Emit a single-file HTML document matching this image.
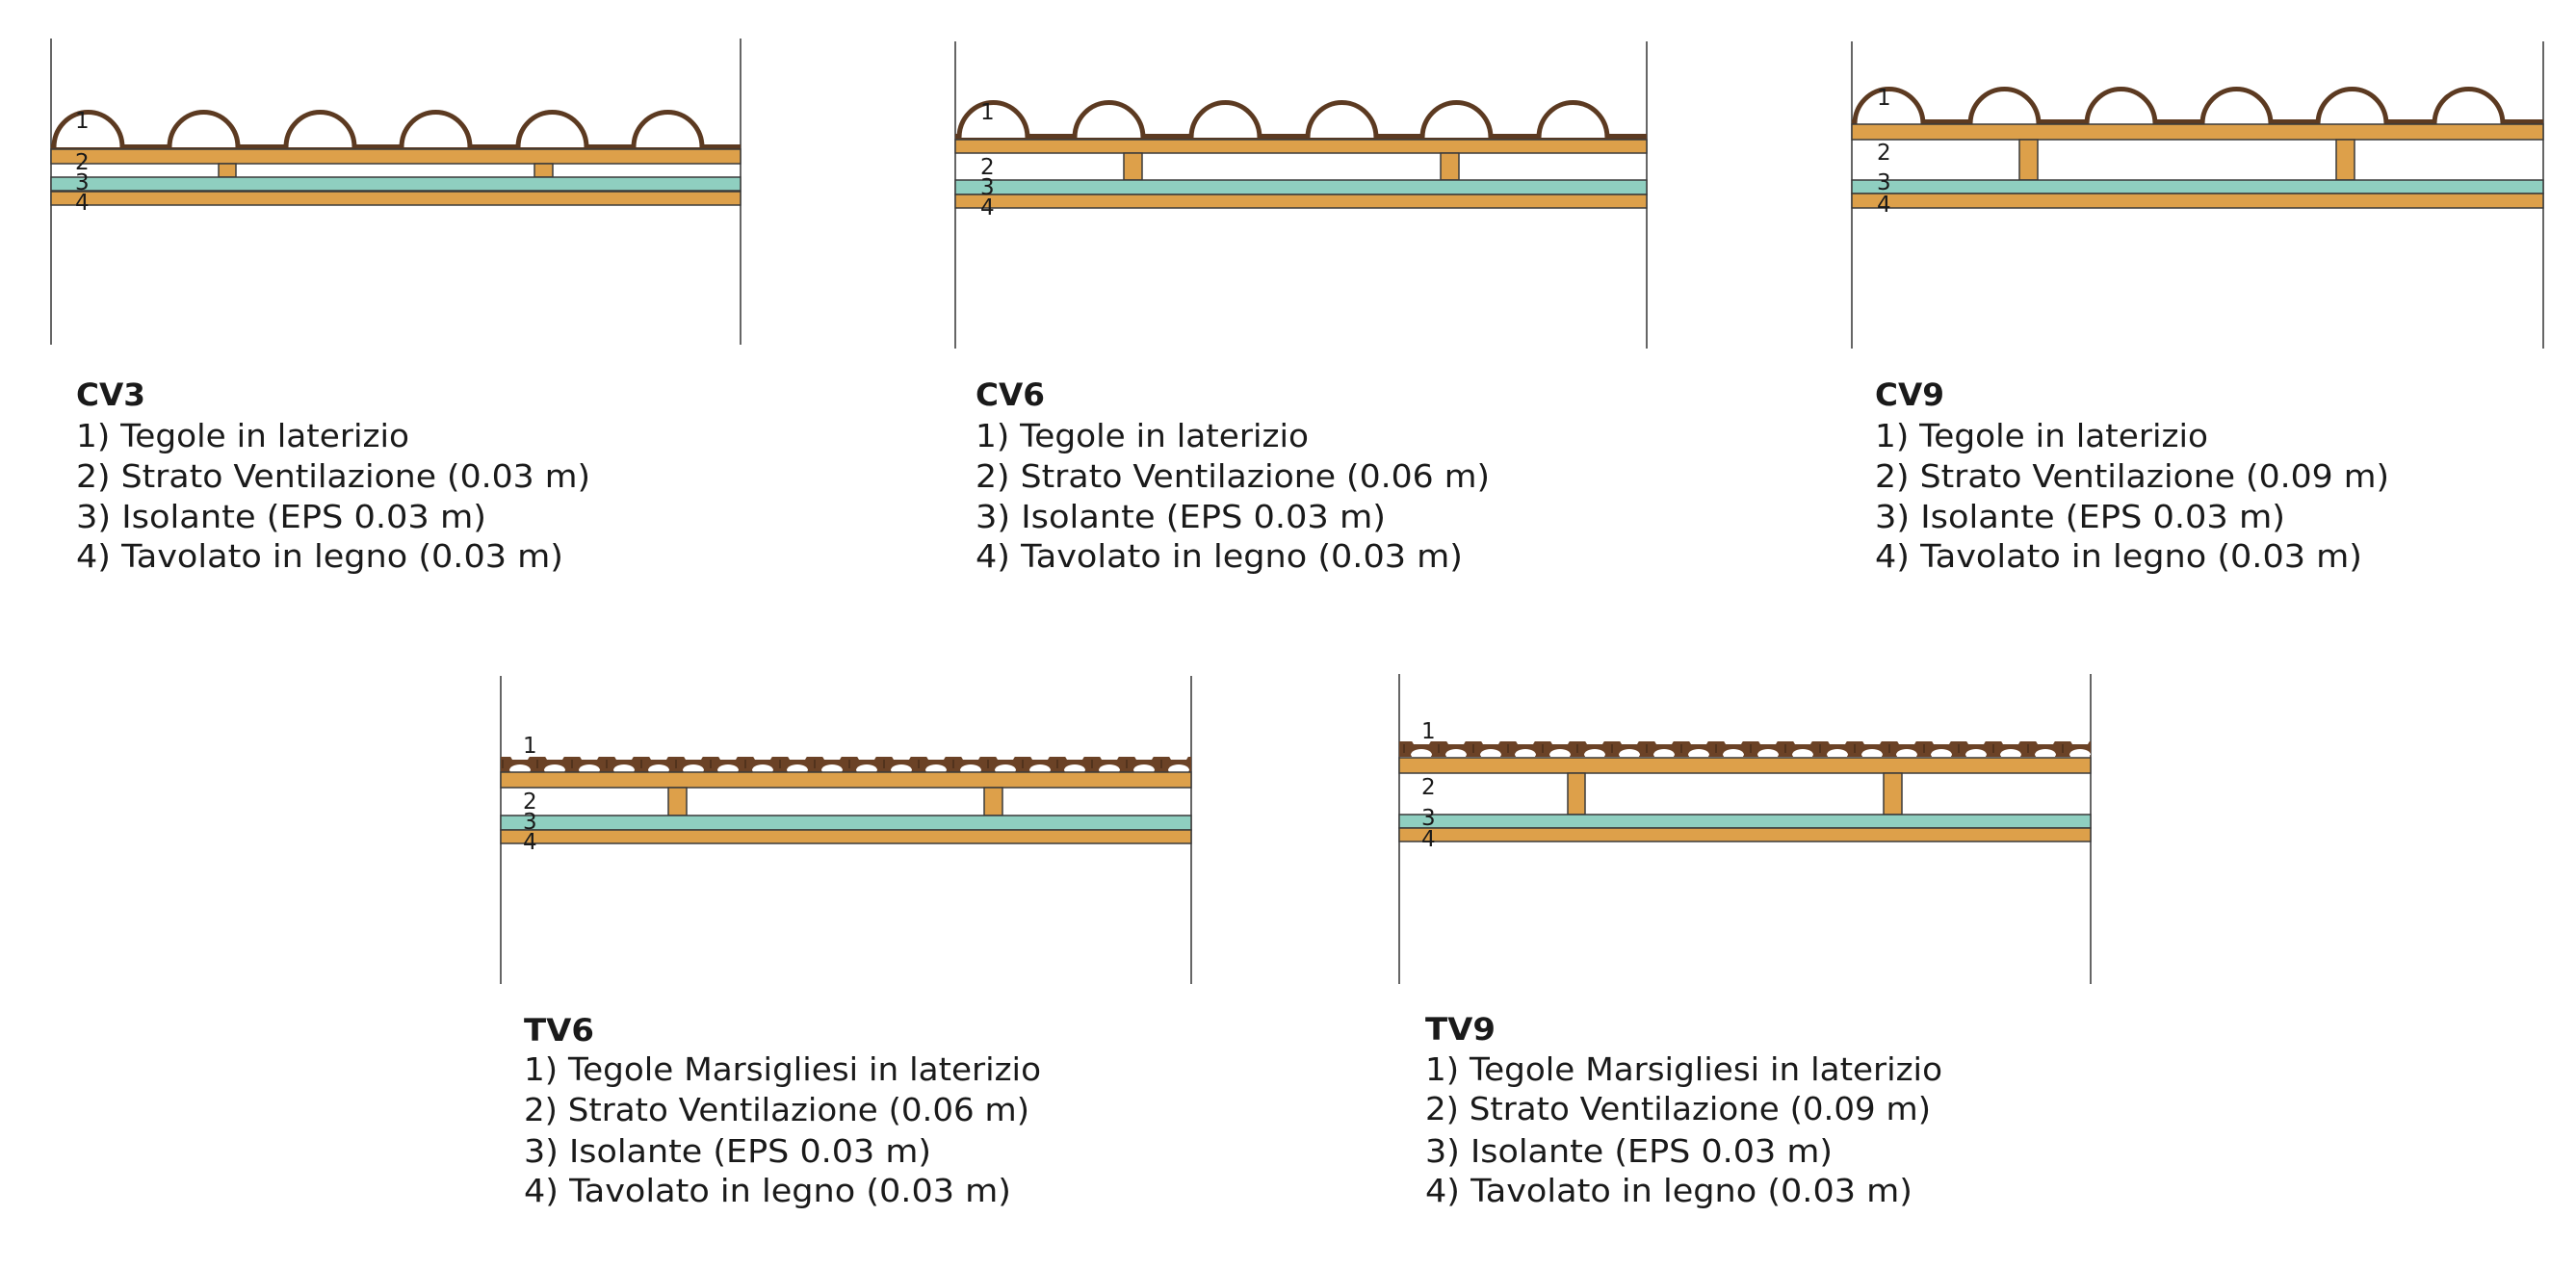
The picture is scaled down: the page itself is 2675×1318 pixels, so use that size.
<!DOCTYPE html>
<html><head><meta charset="utf-8"><style>
html,body{margin:0;padding:0;background:#fff;}
svg{display:block;}
.t{font-family:"DejaVu Sans","Liberation Sans",sans-serif;font-size:33px;fill:#1a1a1a;}
.h{font-family:"DejaVu Sans","Liberation Sans",sans-serif;font-size:32px;font-weight:bold;fill:#1a1a1a;}
.n{font-family:"DejaVu Sans","Liberation Sans",sans-serif;font-size:23px;fill:#1a1a1a;}
.o{fill:#DDA04A;stroke:#3a3a3a;stroke-width:1.5;}
.g{fill:#8FCFC0;stroke:#3a3a3a;stroke-width:1.5;}
.v{stroke:#333;stroke-width:1.5;}
.a{fill:#fff;stroke:#5C3A21;stroke-width:5;}
.b{fill:#5C3A21;}
</style></head><body>
<svg width="2675" height="1318" viewBox="0 0 2675 1318" xmlns="http://www.w3.org/2000/svg">
<defs>
<pattern id="mt" x="0" y="0" width="36" height="16" patternUnits="userSpaceOnUse">
<path d="M0,5 L8,5 L11,0 L25,0 L28,5 L36,5 L36,16 L0,16 Z" fill="#6B4226"/>
<ellipse cx="0" cy="16" rx="11" ry="6" fill="#fff"/>
<ellipse cx="36" cy="16" rx="11" ry="6" fill="#fff"/>
<line x1="18" y1="5" x2="18" y2="14" stroke="#3a2414" stroke-width="1"/>
</pattern>
</defs>

<!-- CV3 -->
<line class="v" x1="53" y1="40" x2="53" y2="358"/>
<line class="v" x1="769" y1="40" x2="769" y2="358"/>
<rect class="b" x="53" y="150" width="716" height="6"/>
<path class="a" d="M56,153 A35 36 0 0 1 127,153"/>
<path class="a" d="M176,153 A35 36 0 0 1 247,153"/>
<path class="a" d="M297,153 A35 36 0 0 1 368,153"/>
<path class="a" d="M417,153 A35 36 0 0 1 488,153"/>
<path class="a" d="M538,153 A35 36 0 0 1 609,153"/>
<path class="a" d="M658,153 A35 36 0 0 1 729,153"/>
<rect class="o" x="53" y="155" width="716" height="15"/>
<rect class="o" x="227" y="170" width="18" height="14"/>
<rect class="o" x="555" y="170" width="19" height="14"/>
<rect class="g" x="53" y="184" width="716" height="14"/>
<rect class="o" x="53" y="199" width="716" height="14"/>
<text class="n" x="78" y="133">1</text>
<text class="n" x="78" y="176">2</text>
<text class="n" x="78" y="197">3</text>
<text class="n" x="78" y="218">4</text>
<text class="h" x="79" y="421" textLength="72" lengthAdjust="spacingAndGlyphs">CV3</text>
<text class="t" x="79" y="464" textLength="346" lengthAdjust="spacingAndGlyphs">1) Tegole in laterizio</text>
<text class="t" x="79" y="506" textLength="534" lengthAdjust="spacingAndGlyphs">2) Strato Ventilazione (0.03 m)</text>
<text class="t" x="79" y="548" textLength="426" lengthAdjust="spacingAndGlyphs">3) Isolante (EPS 0.03 m)</text>
<text class="t" x="79" y="589" textLength="506" lengthAdjust="spacingAndGlyphs">4) Tavolato in legno (0.03 m)</text>

<!-- CV6 -->
<line class="v" x1="992" y1="43" x2="992" y2="362"/>
<line class="v" x1="1710" y1="43" x2="1710" y2="362"/>
<rect class="b" x="992" y="139" width="718" height="7"/>
<path class="a" d="M996,143 A35 36 0 0 1 1067,143"/>
<path class="a" d="M1116,143 A35 36 0 0 1 1187,143"/>
<path class="a" d="M1237,143 A35 36 0 0 1 1308,143"/>
<path class="a" d="M1358,143 A35 36 0 0 1 1429,143"/>
<path class="a" d="M1477,143 A35 36 0 0 1 1548,143"/>
<path class="a" d="M1598,143 A35 36 0 0 1 1669,143"/>
<rect class="o" x="992" y="145" width="718" height="14"/>
<rect class="o" x="1167" y="159" width="19" height="28"/>
<rect class="o" x="1496" y="159" width="19" height="28"/>
<rect class="g" x="992" y="187" width="718" height="15"/>
<rect class="o" x="992" y="202" width="718" height="14"/>
<text class="n" x="1018" y="124">1</text>
<text class="n" x="1018" y="181">2</text>
<text class="n" x="1018" y="202">3</text>
<text class="n" x="1018" y="223">4</text>
<text class="h" x="1013" y="421" textLength="72" lengthAdjust="spacingAndGlyphs">CV6</text>
<text class="t" x="1013" y="464" textLength="346" lengthAdjust="spacingAndGlyphs">1) Tegole in laterizio</text>
<text class="t" x="1013" y="506" textLength="534" lengthAdjust="spacingAndGlyphs">2) Strato Ventilazione (0.06 m)</text>
<text class="t" x="1013" y="548" textLength="426" lengthAdjust="spacingAndGlyphs">3) Isolante (EPS 0.03 m)</text>
<text class="t" x="1013" y="589" textLength="506" lengthAdjust="spacingAndGlyphs">4) Tavolato in legno (0.03 m)</text>

<!-- CV9 -->
<line class="v" x1="1923" y1="43" x2="1923" y2="362"/>
<line class="v" x1="2641" y1="43" x2="2641" y2="362"/>
<rect class="b" x="1923" y="124" width="718" height="6"/>
<path class="a" d="M1926,129 A35 36 0 0 1 1997,129"/>
<path class="a" d="M2046,129 A35 36 0 0 1 2117,129"/>
<path class="a" d="M2167,129 A35 36 0 0 1 2238,129"/>
<path class="a" d="M2287,129 A35 36 0 0 1 2358,129"/>
<path class="a" d="M2407,129 A35 36 0 0 1 2478,129"/>
<path class="a" d="M2528,129 A35 36 0 0 1 2599,129"/>
<rect class="o" x="1923" y="129" width="718" height="16"/>
<rect class="o" x="2097" y="145" width="19" height="42"/>
<rect class="o" x="2426" y="145" width="19" height="42"/>
<rect class="g" x="1923" y="187" width="718" height="14"/>
<rect class="o" x="1923" y="201" width="718" height="15"/>
<text class="n" x="1949" y="109">1</text>
<text class="n" x="1949" y="166">2</text>
<text class="n" x="1949" y="197">3</text>
<text class="n" x="1949" y="220">4</text>
<text class="h" x="1947" y="421" textLength="72" lengthAdjust="spacingAndGlyphs">CV9</text>
<text class="t" x="1947" y="464" textLength="346" lengthAdjust="spacingAndGlyphs">1) Tegole in laterizio</text>
<text class="t" x="1947" y="506" textLength="534" lengthAdjust="spacingAndGlyphs">2) Strato Ventilazione (0.09 m)</text>
<text class="t" x="1947" y="548" textLength="426" lengthAdjust="spacingAndGlyphs">3) Isolante (EPS 0.03 m)</text>
<text class="t" x="1947" y="589" textLength="506" lengthAdjust="spacingAndGlyphs">4) Tavolato in legno (0.03 m)</text>

<!-- TV6 -->
<line class="v" x1="520" y1="702" x2="520" y2="1022"/>
<line class="v" x1="1237" y1="702" x2="1237" y2="1022"/>
<rect x="520" y="786" width="717" height="16" fill="url(#mt)"/>
<rect class="o" x="520" y="802" width="717" height="16"/>
<rect class="o" x="694" y="818" width="19" height="29"/>
<rect class="o" x="1022" y="818" width="19" height="29"/>
<rect class="g" x="520" y="847" width="717" height="15"/>
<rect class="o" x="520" y="862" width="717" height="14"/>
<text class="n" x="543" y="782">1</text>
<text class="n" x="543" y="840">2</text>
<text class="n" x="543" y="861">3</text>
<text class="n" x="543" y="882">4</text>
<text class="h" x="544" y="1081" textLength="73" lengthAdjust="spacingAndGlyphs">TV6</text>
<text class="t" x="544" y="1122" textLength="537" lengthAdjust="spacingAndGlyphs">1) Tegole Marsigliesi in laterizio</text>
<text class="t" x="544" y="1164" textLength="525" lengthAdjust="spacingAndGlyphs">2) Strato Ventilazione (0.06 m)</text>
<text class="t" x="544" y="1207" textLength="423" lengthAdjust="spacingAndGlyphs">3) Isolante (EPS 0.03 m)</text>
<text class="t" x="544" y="1248" textLength="506" lengthAdjust="spacingAndGlyphs">4) Tavolato in legno (0.03 m)</text>

<!-- TV9 -->
<line class="v" x1="1453" y1="700" x2="1453" y2="1022"/>
<line class="v" x1="2171" y1="700" x2="2171" y2="1022"/>
<rect x="1453" y="770" width="718" height="16" fill="url(#mt)"/>
<rect class="o" x="1453" y="787" width="718" height="16"/>
<rect class="o" x="1628" y="803" width="18" height="43"/>
<rect class="o" x="1956" y="803" width="19" height="43"/>
<rect class="g" x="1453" y="846" width="718" height="14"/>
<rect class="o" x="1453" y="860" width="718" height="14"/>
<text class="n" x="1476" y="767">1</text>
<text class="n" x="1476" y="825">2</text>
<text class="n" x="1476" y="857">3</text>
<text class="n" x="1476" y="879">4</text>
<text class="h" x="1480" y="1080" textLength="73" lengthAdjust="spacingAndGlyphs">TV9</text>
<text class="t" x="1480" y="1122" textLength="537" lengthAdjust="spacingAndGlyphs">1) Tegole Marsigliesi in laterizio</text>
<text class="t" x="1480" y="1163" textLength="525" lengthAdjust="spacingAndGlyphs">2) Strato Ventilazione (0.09 m)</text>
<text class="t" x="1480" y="1207" textLength="423" lengthAdjust="spacingAndGlyphs">3) Isolante (EPS 0.03 m)</text>
<text class="t" x="1480" y="1248" textLength="506" lengthAdjust="spacingAndGlyphs">4) Tavolato in legno (0.03 m)</text>
</svg>
</body></html>
